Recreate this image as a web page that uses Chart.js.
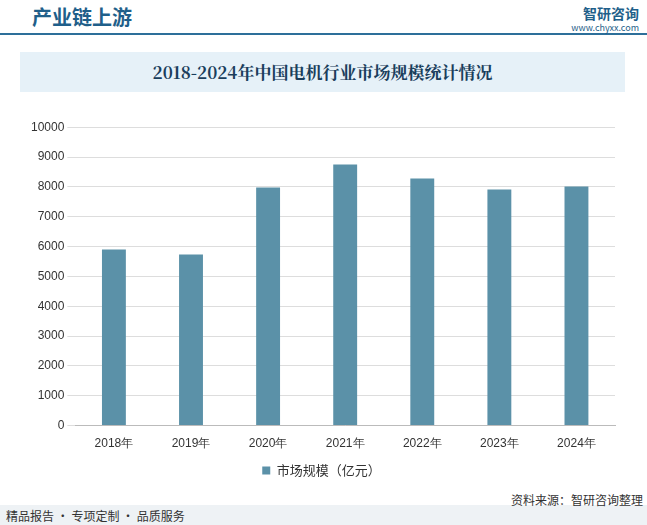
<!DOCTYPE html>
<html><head><meta charset="utf-8">
<script src="https://cdn.jsdelivr.net/npm/chart.js@4/dist/chart.umd.min.js"></script>
<style>
body{margin:0;width:647px;height:525px;background:#fff;font-family:"Noto Sans CJK SC",sans-serif;position:relative;overflow:hidden}
#hdr{position:absolute;left:0;top:0;width:647px;height:34px;}
#hdr .t{position:absolute;left:32px;top:2px;font-size:20px;color:#1f5f8a;font-weight:bold}
#hdr .bar{position:absolute;left:0;top:33px;width:647px;height:2px;background:#2d6f9a}
#hdr .logo{position:absolute;right:8px;top:3px;font-size:14px;color:#1f5f8a;font-weight:bold}
#hdr .url{position:absolute;right:8px;top:21px;font-size:9px;color:#1f5f8a}
#ttl{position:absolute;left:20px;top:52px;width:605px;height:40px;background:#e6f1f8;text-align:center;line-height:40px;font-size:17px;font-weight:bold;color:#1a3e5c;font-family:"Noto Serif CJK SC","Noto Sans CJK SC",serif}
#wrap{position:absolute;left:20px;top:117px;width:605px;height:370px}
#ft{position:absolute;left:0;top:505px;width:647px;height:20px;background:#eef2f5}
#ft .l{position:absolute;left:6px;top:2px;font-size:12px;color:#333}
#ft .r{position:absolute;right:4px;top:-14px;font-size:12px;color:#333}
</style></head><body>
<div id="hdr"><div class="t">产业链上游</div><div class="bar"></div><div class="logo">智研咨询</div><div class="url">www.chyxx.com</div></div>
<div id="ttl">2018-2024年中国电机行业市场规模统计情况</div>
<div id="wrap"><canvas id="c"></canvas></div>
<div id="ft"><div class="l">精品报告 · 专项定制 · 品质服务</div><div class="r">资料来源：智研咨询整理</div></div>
<script>
const categories=["2018年","2019年","2020年","2021年","2022年","2023年","2024年"];
const values=[5900,5730,7980,8750,8280,7910,8010];
const seriesName="市场规模（亿元）";
new Chart(document.getElementById('c'),{type:'bar',
data:{labels:categories,datasets:[{label:seriesName,data:values,backgroundColor:'#5b91a8',barPercentage:0.31,categoryPercentage:1}]},
options:{responsive:true,maintainAspectRatio:false,animation:false,
layout:{padding:{left:8,right:10,top:8}},
plugins:{legend:{position:'bottom',labels:{boxWidth:8,boxHeight:8,font:{size:13,family:"Noto Sans CJK SC"},color:'#333'}},tooltip:{enabled:false}},
scales:{x:{grid:{display:false},border:{color:'#bbb'},ticks:{color:'#333',font:{size:12}}},
y:{min:0,max:10000,ticks:{stepSize:1000,color:'#333',font:{size:12},callback:v=>String(v)},grid:{color:'#ddd'},border:{display:false}}}}});
</script></body></html>
